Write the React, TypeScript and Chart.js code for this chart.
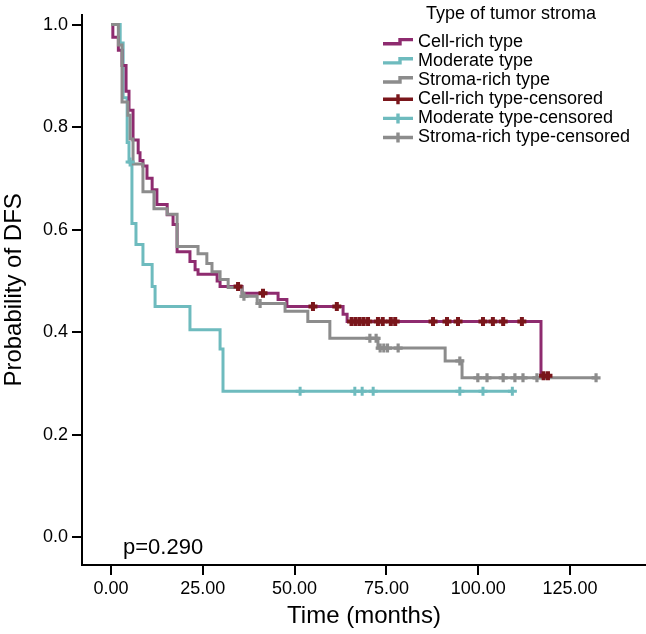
import React, { useEffect, useRef } from 'react';
import { Chart, registerables } from 'chart.js';

Chart.register(...registerables);

// ---- Data (months, survival probability) ----
const cellRichTimes = [0, 0.5, 2.0, 3.0, 4.1, 4.9, 6.0, 7.4, 7.9, 8.7, 9.8, 11.2, 12.5, 15.3, 16.9, 18.0, 21.5, 22.9, 23.7, 28.9, 29.7, 35.7, 45.5, 47.9, 63.2, 64.3, 117.1, 119.0];
const cellRichSurv = [1.0, 0.975, 0.95, 0.92, 0.87, 0.833, 0.775, 0.75, 0.735, 0.724, 0.70, 0.678, 0.649, 0.629, 0.61, 0.557, 0.538, 0.522, 0.513, 0.50, 0.489, 0.476, 0.464, 0.45, 0.435, 0.421, 0.315, 0.315];
const cellRichCensored = [34.6, 41.4, 55.0, 61.5, 65.5, 66.6, 67.7, 68.8, 70.0, 72.7, 74.0, 76.2, 77.4, 87.7, 91.5, 94.5, 101.3, 104.0, 106.8, 111.9, 117.8, 119.0];

const moderateTimes = [0, 2.5, 3.3, 4.4, 4.9, 5.7, 6.8, 8.7, 11.2, 12.0, 21.5, 29.7, 30.5, 109.3];
const moderateSurv = [1.0, 0.964, 0.857, 0.77, 0.732, 0.612, 0.571, 0.532, 0.489, 0.45, 0.405, 0.367, 0.285, 0.285];
const moderateCensored = [5.2, 51.5, 66.4, 68.4, 71.4, 95.0, 101.3, 109.3];

const stromaRichTimes = [0, 2.0, 3.0, 4.6, 5.2, 6.0, 8.7, 11.7, 15.3, 18.0, 23.7, 26.1, 27.5, 29.7, 31.9, 35.7, 39.8, 47.4, 53.6, 59.6, 72.7, 91.0, 95.6, 132.1];
const stromaRichSurv = [1.0, 0.96, 0.849, 0.823, 0.777, 0.728, 0.674, 0.641, 0.63, 0.567, 0.553, 0.534, 0.518, 0.503, 0.487, 0.47, 0.456, 0.441, 0.421, 0.388, 0.369, 0.344, 0.311, 0.311];
const stromaRichCensored = [36.2, 40.6, 70.5, 72.2, 73.3, 74.3, 75.3, 78.2, 95.0, 99.9, 102.4, 106.8, 110.0, 112.2, 116.0, 132.1];

const xTicks = [0, 25, 50, 75, 100, 125];
const yTicks = [0, 0.2, 0.4, 0.6, 0.8, 1.0];

const legendTitle = 'Type of tumor stroma';
const seriesLabels = ['Cell-rich type', 'Moderate type', 'Stroma-rich type'];
const censoredLabels = ['Cell-rich type-censored', 'Moderate type-censored', 'Stroma-rich type-censored'];
const pValueText = 'p=0.290';

const COLORS = {
  cell: '#8E2B6F',
  moderate: '#6EBBBE',
  stroma: '#8C8C8C',
  cellCens: '#7A161B',
  moderateCens: '#6EBBBE',
  stromaCens: '#8C8C8C',
};

const FONT = '"Liberation Sans", Arial, Helvetica, sans-serif';

function toPoints(times: number[], surv: number[]) {
  return times.map((t, i) => ({ x: t, y: surv[i] }));
}

function survAt(times: number[], surv: number[], t: number) {
  let v = surv[0];
  for (let i = 0; i < times.length; i++) {
    if (times[i] <= t) v = surv[i];
  }
  return v;
}

function censorPoints(times: number[], surv: number[], cens: number[]) {
  return cens.map((t) => ({ x: t, y: survAt(times, surv, t) }));
}

const overlayPlugin = {
  id: 'kmOverlay',
  afterDraw(chart: any) {
    const ctx = chart.ctx as CanvasRenderingContext2D;
    ctx.save();
    ctx.fillStyle = '#000';
    ctx.font = `18px ${FONT}`;
    ctx.textAlign = 'center';
    ctx.textBaseline = 'middle';
    ctx.fillText(legendTitle, 511, 14);

    const lineColors = [COLORS.cell, COLORS.moderate, COLORS.stroma];
    const censColors = [COLORS.cellCens, COLORS.moderateCens, COLORS.stromaCens];
    const items = [
      ...seriesLabels.map((l, i) => ({ label: l, color: lineColors[i], kind: 'line' })),
      ...censoredLabels.map((l, i) => ({ label: l, color: censColors[i], kind: 'cross' })),
    ];
    ctx.lineCap = 'butt';
    ctx.lineJoin = 'miter';
    items.forEach((it, i) => {
      const y = 42 + i * 19.1;
      ctx.strokeStyle = it.color;
      ctx.lineWidth = 3.4;
      ctx.beginPath();
      if (it.kind === 'line') {
        ctx.moveTo(383, y + 1.8);
        ctx.lineTo(400, y + 1.8);
        ctx.lineTo(400, y - 2.4);
        ctx.lineTo(413, y - 2.4);
      } else {
        ctx.moveTo(383, y);
        ctx.lineTo(413, y);
        ctx.moveTo(398, y - 5);
        ctx.lineTo(398, y + 5);
      }
      ctx.stroke();
      ctx.fillStyle = '#000';
      ctx.textAlign = 'left';
      ctx.textBaseline = 'middle';
      ctx.font = `18px ${FONT}`;
      ctx.fillText(it.label, 418, y);
    });

    ctx.font = `22px ${FONT}`;
    ctx.textAlign = 'left';
    ctx.textBaseline = 'alphabetic';
    ctx.fillStyle = '#000';
    ctx.fillText(pValueText, 123, 554);
    ctx.restore();
  },
};

export default function App() {
  const canvasRef = useRef<HTMLCanvasElement | null>(null);

  useEffect(() => {
    document.body.style.margin = '0';
    document.body.style.overflow = 'hidden';
    const canvas = canvasRef.current;
    if (!canvas) return;

    const lineDs = (label: string, pts: any[], color: string, order: number) => ({
      type: 'line' as const,
      label,
      data: pts,
      borderColor: color,
      backgroundColor: color,
      borderWidth: 3,
      pointRadius: 0,
      stepped: 'before' as const,
      fill: false,
      order,
    });
    const censDs = (label: string, pts: any[], color: string, order: number, w: number) => ({
      type: 'scatter' as const,
      label,
      data: pts,
      borderColor: color,
      backgroundColor: color,
      pointStyle: 'cross',
      pointRadius: 4.5,
      pointBorderWidth: w,
      showLine: false,
      order,
    });

    const chart = new Chart(canvas, {
      type: 'line',
      data: {
        datasets: [
          censDs(censoredLabels[0], censorPoints(cellRichTimes, cellRichSurv, cellRichCensored), COLORS.cellCens, 0, 4),
          censDs(censoredLabels[2], censorPoints(stromaRichTimes, stromaRichSurv, stromaRichCensored), COLORS.stromaCens, 1, 3.2),
          censDs(censoredLabels[1], censorPoints(moderateTimes, moderateSurv, moderateCensored), COLORS.moderateCens, 2, 3),
          lineDs(seriesLabels[2], toPoints(stromaRichTimes, stromaRichSurv), COLORS.stroma, 3),
          lineDs(seriesLabels[0], toPoints(cellRichTimes, cellRichSurv), COLORS.cell, 4),
          lineDs(seriesLabels[1], toPoints(moderateTimes, moderateSurv), COLORS.moderate, 5),
        ] as any,
      },
      options: {
        responsive: false,
        animation: false,
        devicePixelRatio: 1,
        layout: { autoPadding: false, padding: { top: 12, right: 0, left: 0, bottom: 0 } },
        plugins: {
          legend: { display: false },
          tooltip: { enabled: false },
        },
        scales: {
          x: {
            type: 'linear',
            min: -7.9,
            max: 145.7,
            afterBuildTicks: (scale: any) => {
              scale.ticks = xTicks.map((v) => ({ value: v }));
            },
            afterFit: (scale: any) => {
              scale.height = 69;
            },
            ticks: {
              callback: (v: any) => Number(v).toFixed(2),
              font: { size: 18, family: FONT },
              color: '#000',
              padding: 3,
              maxRotation: 0,
              autoSkip: false,
            },
            grid: { drawOnChartArea: false, drawTicks: true, tickLength: 10, color: '#000', lineWidth: 2 },
            border: { display: true, color: '#000', width: 2 },
            title: {
              display: true,
              text: 'Time (months)',
              font: { size: 24, family: FONT },
              color: '#000',
              padding: { top: 0, bottom: 3 },
            },
          },
          y: {
            type: 'linear',
            min: -0.054,
            max: 1.019,
            afterBuildTicks: (scale: any) => {
              scale.ticks = yTicks.map((v) => ({ value: v }));
            },
            afterFit: (scale: any) => {
              scale.width = 82;
            },
            ticks: {
              callback: (v: any) => Number(v).toFixed(1),
              font: { size: 18, family: FONT },
              color: '#000',
              padding: 4,
              autoSkip: false,
            },
            grid: { drawOnChartArea: false, drawTicks: true, tickLength: 10, color: '#000', lineWidth: 2 },
            border: { display: true, color: '#000', width: 2 },
            title: {
              display: true,
              text: 'Probability of DFS',
              font: { size: 24, family: FONT },
              color: '#000',
              padding: { top: 0, bottom: 0 },
            },
          },
        },
      } as any,
      plugins: [overlayPlugin],
    });

    return () => {
      chart.destroy();
    };
  }, []);

  return (
    <div style={{ width: 646, height: 634, background: '#fff' }}>
      <canvas ref={canvasRef} width={646} height={634} style={{ width: 646, height: 634, display: 'block' }} />
    </div>
  );
}
